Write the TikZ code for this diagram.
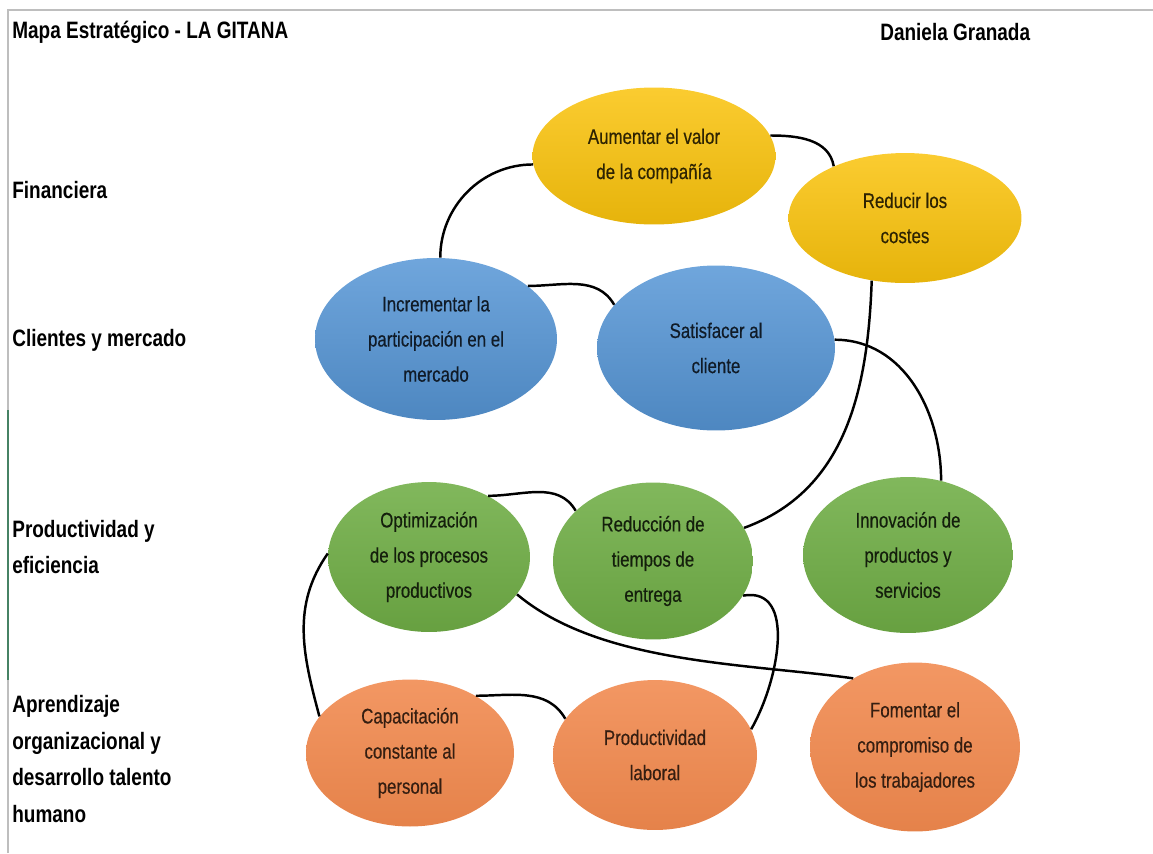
\documentclass[tikz,border=0pt]{standalone}
\usepackage{fontspec}
\setmainfont[FakeStretch=0.8]{Liberation Sans}
\newfontfamily\ellfont[FakeStretch=0.8, FakeBold=0.4]{Liberation Sans}
\usepackage{tikz}
\usetikzlibrary{shapes.geometric}

\definecolor{finyellow}{RGB}{250,195,12}
\definecolor{cliblue}{RGB}{86,150,214}
\definecolor{progreen}{RGB}{112,174,70}
\definecolor{aprorange}{RGB}{241,137,78}
\definecolor{framegray}{RGB}{190,190,190}
\definecolor{framegreen}{RGB}{70,130,100}

\begin{document}
\begin{tikzpicture}[x=0.02cm, y=-0.02cm,
    goal/.style={ellipse, inner sep=0pt, align=center, font=\ellfont\fontsize{12}{20}\selectfont},
    fin/.style={goal, top color=finyellow!85!white, bottom color=finyellow!92!black, text=finyellow!18!black},
    cli/.style={goal, top color=cliblue!85!white, bottom color=cliblue!90!black, text=cliblue!18!black},
    pro/.style={goal, top color=progreen!88!white, bottom color=progreen!92!black, text=progreen!18!black},
    apr/.style={goal, top color=aprorange!88!white, bottom color=aprorange!95!black, text=aprorange!22!black},
    persp/.style={anchor=west, inner sep=0pt, align=left, font=\bfseries\fontsize{13.5}{21}\selectfont},
    link/.style={line width=1.4pt, black}]

      \useasboundingbox (0,0) rectangle (1153,853);
      \draw[framegray, line width=1pt] (8,853) -- (8,10) -- (1153,10);
      \draw[framegreen, line width=1.2pt] (8,410) -- (8,680);

      \node[persp] (titulo) at (12,32) {Mapa Estratégico - LA GITANA};
      \node[persp] (autora) at (880,32) {Daniela Granada};

      \node[persp] (financiera) at (12,190)  {Financiera};
      \node[persp] (clientes)   at (12,340)  {Clientes y mercado};
      \node[persp] (productiv)  at (12,547)  {Productividad y\\eficiencia};
      \node[persp] (aprendiz)   at (12,759)  {Aprendizaje\\organizacional y\\desarrollo talento\\humano};

      \node[fin, minimum width=4.86cm, minimum height=2.74cm] (valor)   at (654,156) {Aumentar el valor\\de la compañía};
      \node[fin, minimum width=4.66cm, minimum height=2.60cm] (costes)  at (905,218) {Reducir los\\costes};
      \node[cli, minimum width=4.84cm, minimum height=3.24cm] (particip) at (436,339) {Incrementar la\\participación en el\\mercado};
      \node[cli, minimum width=4.76cm, minimum height=3.30cm] (satisf)  at (716,348) {Satisfacer al\\cliente};
      \node[pro, minimum width=4.04cm, minimum height=3.00cm] (optim)   at (429,557) {Optimización\\de los procesos\\productivos};
      \node[pro, minimum width=4.00cm, minimum height=3.14cm] (tiempos) at (653,561) {Reducción de\\tiempos de\\entrega};
      \node[pro, minimum width=4.20cm, minimum height=3.12cm] (innov)   at (908,555) {Innovación de\\productos y\\servicios};
      \node[apr, minimum width=4.16cm, minimum height=2.94cm] (capac)   at (410,753) {Capacitación\\constante al\\personal};
      \node[apr, minimum width=4.08cm, minimum height=3.00cm] (laboral) at (655,755) {Productividad\\laboral};
      \node[apr, minimum width=4.20cm, minimum height=3.38cm] (compro)  at (915,747) {Fomentar el\\compromiso de\\los trabajadores};

      \draw[link] (particip.87) to[out=90, in=180] (valor.184);
      \draw[link] (valor.10) to[out=0, in=100] (costes.144);
      \draw[link] (particip.30) to[out=0, in=120] (satisf.157);
      \draw[link] (costes.242) to[out=268, in=20] (tiempos.20);
      \draw[link] (satisf.4) to[out=0, in=90] (innov.66);
      \draw[link] (optim.46) to[out=0, in=120] (tiempos.147);
      \draw[link] (optim.178) to[out=235, in=105] (capac.158);
      \draw[link] (optim.337) to[out=-40, in=172, looseness=0.8] (compro.132);
      \draw[link] (capac.41) to[out=0, in=120] (laboral.158);
      \draw[link] (tiempos.339) to[out=10, in=60, looseness=1.05] (laboral.15);
    \end{tikzpicture}
\end{document}
